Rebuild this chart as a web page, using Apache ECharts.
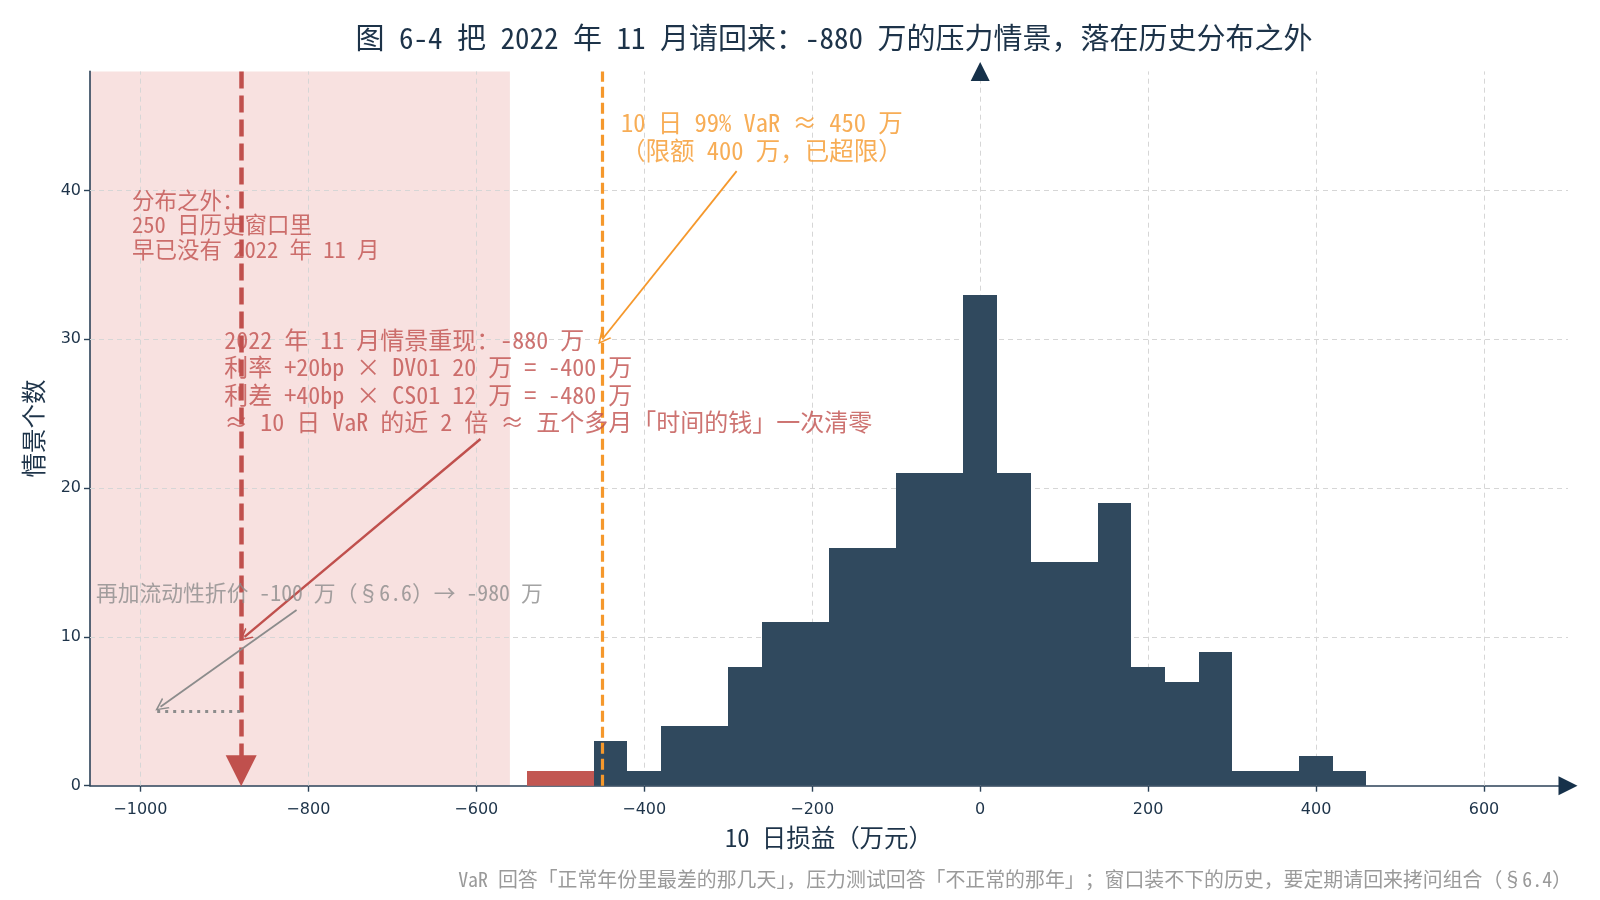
<!DOCTYPE html>
<html>
<head>
<meta charset="utf-8">
<title>图 6-4</title>
<script src="https://cdn.jsdelivr.net/npm/echarts@6/dist/echarts.min.js"></script>
<style>
  html, body { margin: 0; padding: 0; background: #fff; }
  #main { width: 1600px; height: 900px; }
</style>
</head>
<body>
<div id="main"></div>
<script>
// 直方图：每个区间左端点（万元）和情景个数，区间宽 40 万
var binLeft = [-540, -500, -460, -420, -380, -340, -300, -260, -220, -180, -140, -100, -60,
               -20, 20, 60, 100, 140, 180, 220, 260, 300, 340, 380, 420];
var counts  = [1, 1, 3, 1, 4, 4, 8, 11, 11, 16, 16, 21, 21,
               33, 21, 15, 15, 19, 8, 7, 9, 1, 1, 2, 1];
var binWidth = 40;

// 坐标轴刻度
var xTicks = [-1000, -800, -600, -400, -200, 0, 200, 400, 600];
var yTicks = [0, 10, 20, 30, 40];

// 关键数值
var stressLoss = -880;   // 2022 年 11 月情景
var liqLoss = -980;      // 再加流动性折价
var var99 = -450;        // 10 日 99% VaR
var outsideEdge = -560;  // 历史分布之外的阴影右界

// 注释文字
var textVar = '10 日 99% VaR ≈ 450 万\n（限额 400 万，已超限）';
var textOutside = '分布之外：\n250 日历史窗口里\n早已没有 2022 年 11 月';
var textStress = '2022 年 11 月情景重现：-880 万\n利率 +20bp × DV01 20 万 = -400 万\n利差 +40bp × CS01 12 万 = -480 万\n≈ 10 日 VaR 的近 2 倍 ≈ 五个多月「时间的钱」一次清零';
var textLiq = '再加流动性折价 -100 万（§6.6）→ -980 万';
var titleText = '图 6-4 把 2022 年 11 月请回来：-880 万的压力情景，落在历史分布之外';
var footText = 'VaR 回答「正常年份里最差的那几天」，压力测试回答「不正常的那年」；窗口装不下的历史，要定期请回来拷问组合（§6.4）';

var xMin = -1060, xMax = 700, yMin = 0, yMax = 48;

var FONT = '"Noto Sans Mono CJK SC", "Noto Sans CJK SC", sans-serif';
var NAVY = '#1d3349';
var AXIS = '#2c4258';
var RED = '#c0504d';
var ORANGE = '#f5982c';
var GREY = '#8c8c8c';
// 开口箭头（类似 matplotlib 的 "->"）
var chevron = 'path://M0,10 L5,0 L10,10 L8.7,10 L5,2.6 L1.3,10 Z';

var chart = echarts.init(document.getElementById('main'));

var histData = binLeft.map(function(l, i) { return [l, l + binWidth, counts[i]]; });

var gridLines = xTicks.map(function(v) { return { xAxis: v }; })
  .concat(yTicks.slice(1).map(function(v) { return { yAxis: v }; }));

function noteLabel(text, color, size, lh, align) {
  return {
    show: true, position: [0, 0], formatter: text, color: color, fontSize: size, lineHeight: lh,
    fontFamily: FONT, align: align, verticalAlign: 'middle'
  };
}

function arrow(from, to, color, width) {
  return [
    { coord: from, symbol: 'none' },
    { coord: to, symbol: chevron, symbolSize: 13, itemStyle: { color: color },
      lineStyle: { color: color, width: width, type: 'solid' } }
  ];
}

var option = {
  backgroundColor: '#fff',
  animation: false,
  title: [{
    text: titleText, left: 829, top: 18, textAlign: 'center',
    textStyle: { fontFamily: FONT, fontSize: 29, fontWeight: 'normal', color: NAVY }
  }, {
    text: footText, left: 1567, top: 864, textAlign: 'right',
    textStyle: { fontFamily: FONT, fontSize: 19.9, fontWeight: 'normal', color: '#9a9a9a' }
  }],
  grid: { left: 90, right: 32, top: 71.4, bottom: 114.3 },
  xAxis: {
    type: 'value', min: xMin, max: xMax,
    name: '10 日损益（万元）', nameLocation: 'middle', nameGap: 40,
    nameTextStyle: { fontFamily: FONT, fontSize: 24.5, color: NAVY },
    axisLine: { show: true, onZero: false, lineStyle: { color: AXIS, width: 1.6 } },
    axisTick: { show: true, customValues: xTicks, length: 6, lineStyle: { color: AXIS, width: 1.4 } },
    axisLabel: { customValues: xTicks, color: NAVY, fontSize: 16, fontFamily: 'DejaVu Sans', margin: 16,
      formatter: function(v) { return v < 0 ? '\u2212' + (-v) : String(v); } },
    splitLine: { show: false }
  },
  yAxis: {
    type: 'value', min: yMin, max: yMax,
    name: '情景个数', nameLocation: 'middle', nameGap: 44,
    nameTextStyle: { fontFamily: FONT, fontSize: 24.5, color: NAVY },
    axisLine: { show: true, onZero: false, lineStyle: { color: AXIS, width: 1.6 } },
    axisTick: { show: true, customValues: yTicks, length: 6, lineStyle: { color: AXIS, width: 1.4 } },
    axisLabel: { customValues: yTicks, color: NAVY, fontSize: 16, fontFamily: 'DejaVu Sans', margin: 9 },
    splitLine: { show: false }
  },
  series: [
    // 阴影：历史分布之外
    {
      type: 'line', data: [], z: 0, silent: true,
      markArea: {
        silent: true, z: 0,
        itemStyle: { color: '#f8e1e0' },
        data: [[{ xAxis: xMin }, { xAxis: outsideEdge }]]
      }
    },
    // 网格线（放在柱子下面）
    {
      type: 'line', data: [], z: 1, silent: true,
      markLine: {
        silent: true, z: 1, symbol: ['none', 'none'], label: { show: false },
        lineStyle: { color: '#d6d6d6', type: [5, 4], width: 1 },
        data: gridLines
      }
    },
    // 直方图（柱边取整，相邻柱之间不留缝）
    {
      type: 'custom', z: 2, data: histData,
      renderItem: function(params, api) {
        var p0 = api.coord([api.value(0), api.value(2)]);
        var p1 = api.coord([api.value(1), 0]);
        var x0 = Math.round(p0[0]), x1 = Math.round(p1[0]);
        var c = api.value(1) <= var99 ? '#c25752' : '#30495e';
        return {
          type: 'rect',
          shape: { x: x0, y: Math.round(p0[1]), width: x1 - x0, height: p1[1] - Math.round(p0[1]) },
          style: { fill: c }
        };
      }
    },
    // 竖线：压力情景、VaR；横点线：流动性折价
    {
      type: 'line', data: [], z: 3, silent: true,
      markLine: {
        silent: true, z: 3, label: { show: false },
        data: [
          [{ coord: [stressLoss, yMax], symbol: 'none' },
           { coord: [stressLoss, 1], symbol: 'triangle', symbolSize: 31, itemStyle: { color: RED },
             lineStyle: { color: RED, width: 4.5, type: [17, 7] } }],
          [{ coord: [var99, yMin], symbol: 'none' },
           { coord: [var99, yMax], symbol: 'none',
             lineStyle: { color: ORANGE, width: 3.2, type: [11, 5] } }],
          [{ coord: [liqLoss, 5], symbol: 'none' },
           { coord: [stressLoss, 5], symbol: 'none',
             lineStyle: { color: GREY, width: 3, type: [3, 5] } }]
        ]
      }
    },
    // 注释箭头
    {
      type: 'line', data: [], z: 4, silent: true,
      markLine: {
        silent: true, z: 4, label: { show: false },
        data: [
          arrow([-290, 41.3], [var99, 30], ORANGE, 1.8),
          arrow([-595, 23.3], [-876, 10], RED, 2.4),
          arrow([-814, 11.8], [-976, 5.3], GREY, 1.8)
        ]
      }
    },
    // 坐标轴箭头
    {
      type: 'line', data: [], z: 5, silent: true,
      markPoint: {
        silent: true, z: 5, label: { show: false },
        itemStyle: { color: '#16314a' },
        data: [
          { coord: [0, yMax], symbol: 'triangle', symbolSize: [19, 19] },
          { coord: [xMax, 0], symbol: 'triangle', symbolRotate: -90, symbolSize: [19, 19] }
        ]
      }
    },
    // 注释文字
    {
      type: 'scatter', z: 6, symbolSize: 0, silent: true,
      data: [
        { value: [-260, 43.6], label: noteLabel(textVar, ORANGE, 24.5, 27.5, 'center') },
        { value: [-1010, 37.7], label: noteLabel(textOutside, RED, 22.5, 24.5, 'left') },
        { value: [-900, 27.2], label: noteLabel(textStress, RED, 24, 27.2, 'left') },
        { value: [-1053, 13], label: noteLabel(textLiq, GREY, 21.8, 24, 'left') }
      ]
    }
  ]
};

chart.setOption(option);
window.onresize = chart.resize;
</script>
</body>
</html>
